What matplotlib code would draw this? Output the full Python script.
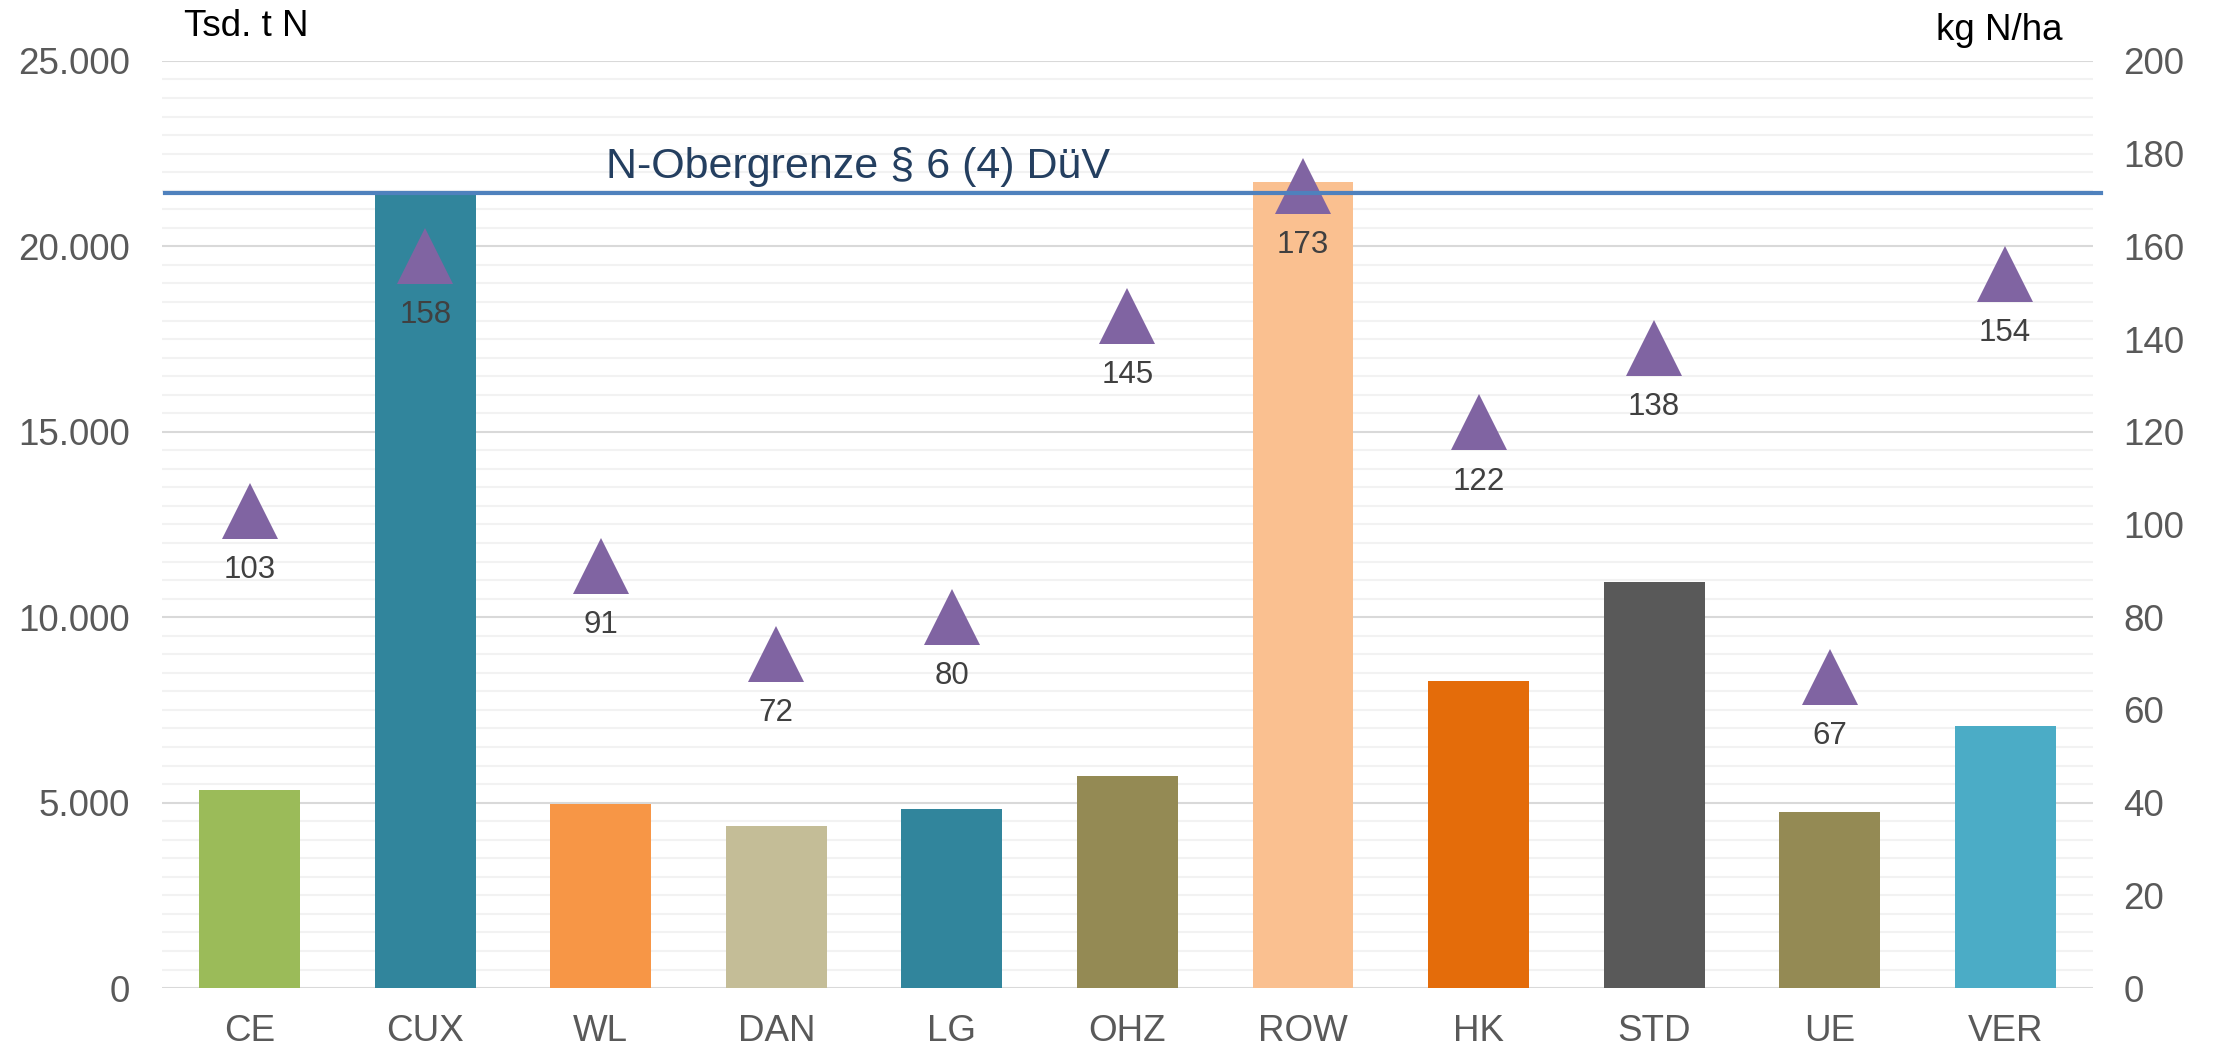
import numpy as np
import matplotlib.pyplot as plt
import matplotlib.transforms as mtransforms
from matplotlib.ticker import MultipleLocator, FuncFormatter

plt.rcParams['font.family'] = ['Liberation Sans', 'DejaVu Sans']

# --- Data ---
regions = ['CE', 'CUX', 'WL', 'DAN', 'LG', 'OHZ', 'ROW', 'HK', 'STD', 'UE', 'VER']
n_total = [5340, 21470, 4960, 4370, 4830, 5730, 21740, 8280, 10950, 4740, 7070]  # Tsd. t N
n_per_ha = [103, 158, 91, 72, 80, 145, 173, 122, 138, 67, 154]                  # kg N/ha
n_limit = 171.5  # kg N/ha, as drawn
limit_label = 'N-Obergrenze § 6 (4) DüV'

bar_colors = ['#9BBB59', '#31859C', '#F79646', '#C4BD97', '#31859C', '#948A54',
              '#FAC090', '#E46C0A', '#595959', '#948A54', '#4BACC6']

# --- Figure ---
fig = plt.figure(figsize=(22.15, 10.5), dpi=100)
ax = fig.add_axes([0.0731, 0.059, 0.8718, 0.883])
ax2 = ax.twinx()

x = np.arange(len(regions))
ax.bar(x, n_total, width=0.575, color=bar_colors, zorder=2)
ax.set_xlim(-0.5, len(regions) - 0.5)
ax.set_ylim(0, 25000)
ax2.set_ylim(0, 200)

ax.yaxis.set_major_locator(MultipleLocator(5000))
ax.yaxis.set_minor_locator(MultipleLocator(500))
ax.yaxis.set_major_formatter(FuncFormatter(lambda v, p: f'{int(v):,}'.replace(',', '.')))
ax2.yaxis.set_major_locator(MultipleLocator(20))

ax.grid(which='major', axis='y', color='#D9D9D9', linewidth=1.5, zorder=0)
ax.grid(which='minor', axis='y', color='#F2F2F2', linewidth=1.5, zorder=0)
ax.set_axisbelow(True)

ax.set_xticks(x)
ax.set_xticklabels(regions)
for a in (ax, ax2):
    for s in a.spines.values():
        s.set_visible(False)
    a.tick_params(which='both', length=0, labelsize=26.5, labelcolor='#595959')
ax.tick_params(axis='y', pad=23)
ax.tick_params(axis='x', pad=19)
ax2.tick_params(axis='y', pad=22)

# triangles with labels
ax2.plot(x, n_per_ha, linestyle='none', marker='^', markersize=40,
         color='#8064A2', markeredgewidth=0, zorder=3)
for xi, v in zip(x, n_per_ha):
    ax2.annotate(str(v), (xi, v), xytext=(0, -42.5), textcoords='offset points',
                 ha='center', va='center', fontsize=22.5, color='#404040', zorder=5)

# limit line
trans = mtransforms.blended_transform_factory(ax2.transAxes, ax2.transData)
ax2.plot([0.0015, 1.004], [n_limit, n_limit], transform=trans, color='#4F81BD',
         linewidth=3, clip_on=False, zorder=4)
ax2.text(2.03, n_limit + 3.3, limit_label, fontsize=31, color='#243F60',
         ha='left', va='baseline', zorder=5)

# axis unit labels
fig.text(184 / 2215, 1 - 26 / 1050, 'Tsd. t N', fontsize=26.5, color='black',
         ha='left', va='center')
fig.text(2063 / 2215, 1 - 30 / 1050, 'kg N/ha', fontsize=26.5, color='black',
         ha='right', va='center')

fig.savefig('out.png', dpi=100)
plt.close()
